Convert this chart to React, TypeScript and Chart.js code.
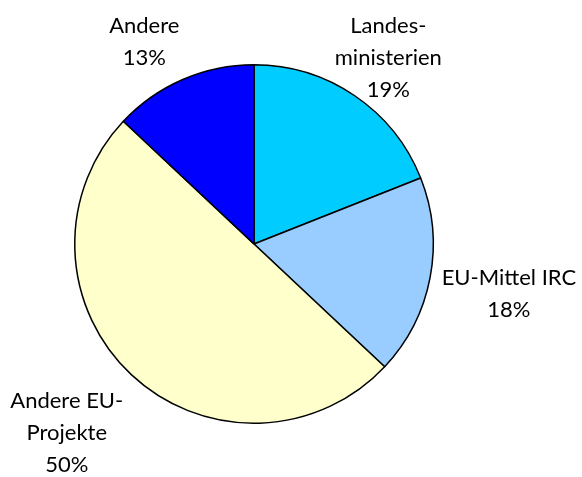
import React, { useEffect, useRef } from "react";
import { Chart, registerables } from "chart.js";

Chart.register(...registerables);

const categories = ["Landesministerien", "EU-Mittel IRC", "Andere EU-Projekte", "Andere"];
const labelLines = [["Landes-", "ministerien"], ["EU-Mittel IRC"], ["Andere EU-", "Projekte"], ["Andere"]];
const shares = [19, 18, 50, 13];
const colors = ["#00CCFF", "#99CCFF", "#FFFFCC", "#0000FF"];

// label placement relative to slice mid-angle: [angle shift in degrees, radius factor]
const labelPlacement: [number, number][] = [
  [1.6, 1.281],
  [0.25, 1.449],
  [1.5, 1.485],
  [-5.1, 1.283],
];

const FONT = "22px Lato, 'Open Sans', sans-serif";
const LINE_H = 32;

const labelPlugin = {
  id: "outerLabels",
  afterDatasetsDraw(chart: any) {
    const ctx = chart.ctx;
    const meta = chart.getDatasetMeta(0);
    ctx.save();
    ctx.font = FONT;
    ctx.fillStyle = "#000";
    ctx.textAlign = "center";
    ctx.textBaseline = "middle";
    meta.data.forEach((arc: any, i: number) => {
      const p = arc.getProps(["x", "y", "startAngle", "endAngle", "outerRadius"], true);
      const mid = (p.startAngle + p.endAngle) / 2 + (labelPlacement[i][0] * Math.PI) / 180;
      const r = p.outerRadius * labelPlacement[i][1];
      const cx = p.x + Math.cos(mid) * r;
      const cy = p.y + Math.sin(mid) * r;
      const lines = [...labelLines[i], shares[i] + "%"];
      const top = cy - ((lines.length - 1) * LINE_H) / 2;
      lines.forEach((t, k) => ctx.fillText(t, cx, top + k * LINE_H));
    });
    ctx.restore();
  },
};

export default function App() {
  const ref = useRef<HTMLCanvasElement | null>(null);
  useEffect(() => {
    document.body.style.margin = "0";
    const chart = new Chart(ref.current!, {
      type: "pie",
      data: {
        labels: categories,
        datasets: [
          {
            data: shares,
            backgroundColor: colors,
            borderColor: "#000",
            borderWidth: 1.5,
          },
        ],
      },
      options: {
        animation: false,
        responsive: false,
        layout: { padding: { left: 74, right: 148, top: 64, bottom: 53 } },
        plugins: { legend: { display: false }, tooltip: { enabled: false } },
      },
      plugins: [labelPlugin],
    });
    return () => chart.destroy();
  }, []);
  return (
    <div style={{ width: 582, height: 477, background: "#fff" }}>
      <canvas ref={ref} width={582} height={477} />
    </div>
  );
}
